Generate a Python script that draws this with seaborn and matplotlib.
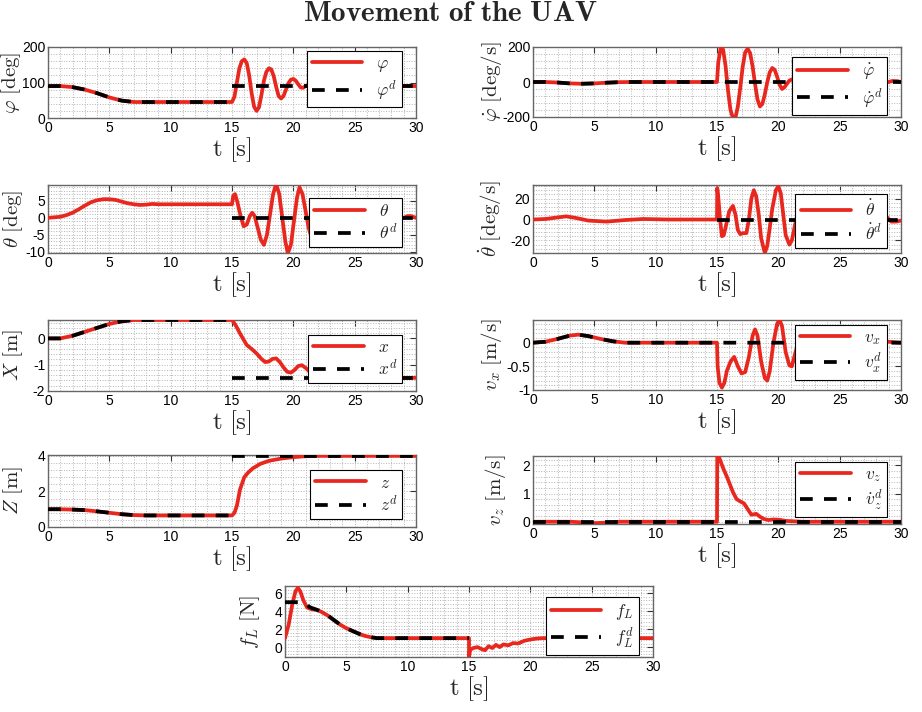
import matplotlib
matplotlib.use("Agg")
import matplotlib.pyplot as plt
import seaborn as sns
from matplotlib.ticker import MultipleLocator, AutoMinorLocator, FixedLocator, FuncFormatter

# ---------------- data ----------------
# roll angle phi [deg]
t_phi = [0, 1, 2, 3, 4, 5, 6, 7, 8, 15,
         15.2, 15.4, 15.6, 15.8, 16.0, 16.2, 16.4, 16.6, 16.8, 17.0, 17.2, 17.4, 17.6, 17.8,
         18.0, 18.2, 18.4, 18.6, 18.8, 19.0, 19.2, 19.4, 19.6, 19.8, 20.0, 20.2, 20.4, 20.6,
         20.8, 21.0, 21.3, 21.6, 22, 30]
phi = [90, 90, 87, 80, 70, 58, 49, 45, 45, 45,
       60, 100, 140, 160, 165, 155, 120, 70, 32, 20, 30, 65, 105, 130,
       140, 137, 118, 88, 62, 55, 62, 80, 98, 108, 110, 105, 95, 86,
       85, 90, 94, 91, 90, 90]
t_phid_a = [0, 1, 2, 3, 4, 5, 6, 7, 8, 15]
phid_a = [90, 90, 87, 80, 70, 58, 49, 45, 45, 45]
t_phid_b = [15, 30]
phid_b = [90, 90]

# roll rate
t_dphi = [0, 1, 2, 3, 4, 5, 6, 7, 8, 15,
          15.1, 15.3, 15.5, 15.7, 15.9, 16.1, 16.3, 16.5, 16.7, 16.9,
          17.1, 17.3, 17.5, 17.7, 17.9, 18.1, 18.3, 18.5, 18.7, 18.9,
          19.1, 19.3, 19.5, 19.7, 19.9, 20.1, 20.3, 20.5, 20.7, 20.9,
          21.1, 21.4, 21.7, 22, 29, 29.3, 29.7, 30]
dphi = [0, 0, -3, -8, -10, -8, -4, -1, 0, 0,
        110, 195, 185, 90, -50, -160, -205, -205, -140, -30,
        90, 170, 190, 165, 90, -10, -100, -140, -125, -70,
        0, 55, 80, 70, 30, -15, -40, -30, -10, 8,
        15, 3, -5, 0, 0, 6, 5, 0]
t_dphid = [0, 1, 2, 3, 4, 5, 6, 7, 8, 15, 30]
dphid = [0, 0, -3, -8, -10, -8, -4, -1, 0, 0, 0]

# pitch angle theta [deg]
t_th = [0, 1, 1.5, 2, 2.5, 3, 3.5, 4, 4.5, 5, 5.5, 6, 6.5, 7, 7.5, 8, 8.5, 9, 15,
        15.1, 15.25, 15.45, 15.7, 15.95, 16.2, 16.45, 16.65, 16.85,
        17.1, 17.35, 17.6, 17.85, 18.1, 18.35, 18.6, 18.85,
        19.1, 19.35, 19.55, 19.8, 20.05, 20.3, 20.5, 20.75,
        21.0, 21.25, 21.5, 21.8, 22.1, 22.5, 23, 23.5, 24,
        29, 29.3, 29.6, 30]
th = [0, 0.3, 0.8, 1.5, 2.5, 3.6, 4.6, 5.2, 5.5, 5.5, 5.3, 4.8, 4.3, 4.0, 3.8, 3.9, 4.1, 4.0, 4.0,
      6.5, 7.0, 4.5, 0.5, -2.5, -2.0, 0.5, 1.5, 0.5,
      -3, -6.5, -8, -5, 1, 7, 10, 7,
      0, -7, -10.5, -8, -1, 6, 9, 7,
      2, -3, -6, -4.5, -1, 2, 1, -1, 0,
      0, 0.5, 0.5, 0]
t_thd = [15, 30]
thd = [0, 0]

# pitch rate
t_dth = [0, 1, 2, 2.7, 3.5, 4.5, 6, 7.5, 9, 11, 15,
         15.02, 15.1, 15.25, 15.4, 15.55, 15.75, 16.0, 16.3, 16.5, 16.7, 16.9,
         17.1, 17.4, 17.6, 17.8, 18.0, 18.2, 18.4, 18.6, 18.9,
         19.1, 19.3, 19.5, 19.8, 20.0, 20.2, 20.4, 20.6, 20.9,
         21.1, 21.4, 21.7, 21.9, 22.2, 22.6, 23, 24,
         28.5, 28.8, 29.2, 29.6, 30]
dth = [0, 0.5, 2, 3, 1.5, -1, -2, -0.5, 0.5, 0, 0,
       30, 22, 0, -16, -15, -5, 8, 13, 5, -10, -14,
       -13, -13, 0, 20, 28, 22, 5, -18, -32,
       -25, -8, 10, 28, 32, 25, 5, -15, -24,
       -20, -3, 12, 16, 10, 0, -5, 0,
       0, 3, -2, -2, -1]
t_dthd = [15, 30]
dthd = [0, 0]

# position X [m]
t_x = [0, 1, 2, 3, 4, 5, 6, 7, 15,
       15.3, 15.65, 16.2, 16.6, 17.0, 17.4, 17.7, 18.0, 18.3, 18.6, 18.9, 19.2,
       19.5, 19.8, 20.1, 20.4, 20.7, 21.0, 21.3, 21.6, 22, 23, 30]
x = [0, 0, 0.1, 0.25, 0.4, 0.55, 0.65, 0.7, 0.7,
     0.5, 0.19, -0.25, -0.4, -0.57, -0.78, -0.9, -0.88, -0.78, -0.76, -0.9, -1.1,
     -1.27, -1.3, -1.2, -1.05, -1.02, -1.12, -1.25, -1.33, -1.42, -1.5, -1.5]
t_xd_a = [0, 1, 2, 3, 4, 5, 6, 7, 15]
xd_a = [0, 0, 0.1, 0.25, 0.4, 0.55, 0.65, 0.7, 0.7]
t_xd_b = [15, 30]
xd_b = [-1.5, -1.5]

# velocity vx [m/s]
t_vx = [0, 1, 2, 3, 3.7, 4.5, 5.5, 6.5, 7.5, 15,
        15.05, 15.2, 15.4, 15.6, 15.8, 16.1, 16.4, 16.7, 17.0, 17.3,
        17.6, 17.9, 18.1, 18.3, 18.6, 18.9, 19.1, 19.3, 19.6, 19.9,
        20.1, 20.3, 20.6, 20.9, 21.1, 21.4, 21.8, 22.1, 22.5, 23,
        24, 29, 29.5, 30]
vx = [0, 0.02, 0.08, 0.15, 0.17, 0.14, 0.08, 0.03, 0, 0,
      -0.5, -0.85, -0.95, -0.85, -0.6, -0.4, -0.3, -0.5, -0.65, -0.62,
      -0.3, 0.15, 0.28, 0.15, -0.4, -0.75, -0.8, -0.6, 0, 0.4,
      0.48, 0.35, -0.2, -0.48, -0.5, -0.2, 0.15, 0.2, 0, -0.1,
      0, 0.02, 0.01, 0]
t_vxd = [0, 1, 2, 3, 3.7, 4.5, 5.5, 6.5, 7.5, 15, 30]
vxd = [0, 0.02, 0.08, 0.15, 0.17, 0.14, 0.08, 0.03, 0, 0, 0]

# altitude Z [m]
t_z = [0, 1, 2, 3, 4, 5, 6, 7, 8, 15,
       15.2, 15.4, 15.65, 16.0, 16.3, 16.7, 17.3, 18, 19, 20, 21, 22, 30]
z = [1, 1, 0.98, 0.95, 0.88, 0.8, 0.72, 0.67, 0.65, 0.65,
     0.8, 1.2, 2.1, 2.8, 3.05, 3.3, 3.55, 3.72, 3.85, 3.93, 3.98, 4, 4]
t_zd_a = [0, 1, 2, 3, 4, 5, 6, 7, 8, 15]
zd_a = [1, 1, 0.98, 0.95, 0.88, 0.8, 0.72, 0.67, 0.65, 0.65]
t_zd_b = [15, 30]
zd_b = [4, 4]

# velocity vz [m/s]
t_vz = [0, 3, 4, 5, 6, 7, 15,
        15.02, 15.2, 15.5, 15.8, 16.3, 16.6, 16.9, 17.2, 17.5, 17.8, 18.2, 18.5,
        18.8, 19.2, 19.6, 20.1, 20.6, 21.5, 22, 30]
vz = [0, 0, -0.02, -0.05, -0.03, 0, 0,
      2.3, 2.25, 1.9, 1.6, 1.05, 0.8, 0.72, 0.65, 0.45, 0.25, 0.28, 0.18,
      0.1, 0.06, 0.08, 0.07, 0.03, 0.01, 0, 0]
t_vzd = [0, 30]
vzd = [0, 0]

# cable force f_L [N]
t_fl = [0, 0.3, 0.6, 0.85, 1.05, 1.25, 1.5, 1.8, 2.2, 2.6, 3.0, 3.5, 4.0, 4.5, 5.0, 5.5,
        6.0, 6.5, 7.0, 7.5, 15,
        15.0, 15.1, 15.35, 15.7, 16.0, 16.3, 16.6, 16.9, 17.2, 17.5, 17.8, 18.2, 18.6,
        19.0, 19.5, 20, 20.5, 21, 30]
fl = [1.0, 2.5, 4.8, 6.2, 6.6, 6.2, 5.2, 4.4, 4.2, 4.15, 3.9, 3.5, 3.0, 2.5, 2.1, 1.8,
      1.5, 1.25, 1.1, 1.0, 1.0,
      -1.1, -0.3, -0.1, 0.0, -0.2, -0.35, 0.1, -0.1, 0.25, 0.0, 0.3, 0.2, 0.45,
      0.4, 0.7, 0.85, 0.95, 1.0, 1.0]
t_fld = [0, 1.6, 2.0, 2.6, 3.0, 3.5, 4.0, 4.5, 5.0, 5.5, 6.0, 6.5, 7.0, 7.5, 15]
fld = [5, 5, 4.45, 4.15, 3.9, 3.5, 3.0, 2.5, 2.1, 1.8, 1.5, 1.25, 1.1, 1.0, 1.0]

x_ticks = [0, 5, 10, 15, 20, 25, 30]

# ---------------- style ----------------
sns.set_theme(style="white")
plt.rcParams["font.family"] = ["Liberation Sans", "DejaVu Sans"]
plt.rcParams["mathtext.fontset"] = "cm"
plt.rcParams["axes.unicode_minus"] = False

RED = "#e8281e"
W, H = 922, 712
fig = plt.figure(figsize=(W / 100, H / 100), dpi=100)

fmt = FuncFormatter(lambda v, p: "{:g}".format(v))


def px_rect(left, top, right, bottom):
    return [left / W, 1 - bottom / H, (right - left) / W, (bottom - top) / H]


def draw(rect, t, y, desired, ylim, yticks, ylabel, labels, leg_y, ylab_x):
    ax = fig.add_axes(rect)
    sns.lineplot(x=t, y=y, ax=ax, color=RED, lw=2.7, estimator=None, sort=False,
                 label=labels[0], zorder=3)
    for i, (td, vd) in enumerate(desired):
        sns.lineplot(x=td, y=vd, ax=ax, color="black", lw=2.7,
                     linestyle=(0, (3.4, 3.0)), estimator=None, sort=False,
                     label=labels[1] if i == 0 else "_nolegend_", zorder=4)
    ax.set_xlim(0, 30)
    ax.set_ylim(*ylim)
    ax.xaxis.set_major_locator(FixedLocator(x_ticks))
    ax.xaxis.set_minor_locator(MultipleLocator(1))
    ax.yaxis.set_major_locator(FixedLocator(yticks))
    ax.yaxis.set_minor_locator(AutoMinorLocator(5))
    ax.xaxis.set_major_formatter(fmt)
    ax.yaxis.set_major_formatter(fmt)
    ax.grid(True, which="both", linestyle=":", color="#b4b4b4", linewidth=0.7)
    ax.set_axisbelow(True)
    ax.tick_params(which="major", direction="in", length=4, width=0.8,
                   top=True, right=True, labelsize=10, pad=2, colors="#333333",
                   labelcolor="black")
    ax.tick_params(which="minor", length=0)
    for s in ax.spines.values():
        s.set_color("#666666")
        s.set_linewidth(1.0)
    ax.set_xlabel(r"$\mathrm{t\ [s]}$", fontsize=18, labelpad=0)
    ax.set_ylabel(ylabel, fontsize=15)
    ax.yaxis.set_label_coords(ylab_x, 0.5)
    leg = ax.legend(loc="center right", bbox_to_anchor=(0.963, leg_y), fontsize=12.5,
                    frameon=True, fancybox=False, framealpha=1, edgecolor="black",
                    handlelength=2.9, borderpad=0.3, labelspacing=0.2,
                    handletextpad=0.8, borderaxespad=0)
    leg.get_frame().set_linewidth(0.8)
    leg.set_zorder(10)
    return ax


draw(px_rect(48, 47, 416, 118), t_phi, phi,
     [(t_phid_a, phid_a), (t_phid_b, phid_b)], (0, 200), [0, 100, 200],
     r"$\varphi\ [\mathrm{deg}]$", [r"$\varphi$", r"$\varphi^d$"], 0.55, -0.068)

draw(px_rect(533, 47, 901, 117), t_dphi, dphi,
     [(t_dphid, dphid)], (-200, 200), [-200, 0, 200],
     r"$\dot{\varphi}\ [\mathrm{deg/s}]$", [r"$\dot{\varphi}$", r"$\dot{\varphi}^d$"], 0.445, -0.08)

draw(px_rect(48, 185, 416, 253), t_th, th,
     [(t_thd, thd)], (-10.4, 9.7), [-10, -5, 0, 5],
     r"$\theta\ [\mathrm{deg}]$", [r"$\theta$", r"$\theta^d$"], 0.45, -0.062)

draw(px_rect(533, 185, 901, 253), t_dth, dth,
     [(t_dthd, dthd)], (-32, 33), [-20, 0, 20],
     r"$\dot{\theta}\ [\mathrm{deg/s}]$", [r"$\dot{\theta}$", r"$\dot{\theta}^d$"], 0.47, -0.08)

draw(px_rect(48, 320, 416, 391), t_x, x,
     [(t_xd_a, xd_a), (t_xd_b, xd_b)], (-2, 0.7), [-2, -1, 0],
     r"$X\ [\mathrm{m}]$", [r"$x$", r"$x^d$"], 0.45, -0.062)

draw(px_rect(533, 320, 901, 390), t_vx, vx,
     [(t_vxd, vxd)], (-1, 0.48), [-1, -0.5, 0],
     r"$v_x\ [\mathrm{m/s}]$", [r"$v_x$", r"$v_x^d$"], 0.54, -0.08)

draw(px_rect(48, 455, 416, 527), t_z, z,
     [(t_zd_a, zd_a), (t_zd_b, zd_b)], (0, 4.05), [0, 2, 4],
     r"$Z\ [\mathrm{m}]$", [r"$z$", r"$z^d$"], 0.45, -0.062)

draw(px_rect(533, 456, 901, 524), t_vz, vz,
     [(t_vzd, vzd)], (-0.08, 2.33), [0, 1, 2],
     r"$v_z\ [\mathrm{m/s}]$", [r"$v_z$", r"$\dot{v}_z^d$"], 0.51, -0.068)

draw(px_rect(285, 586, 653, 657), t_fl, fl,
     [(t_fld, fld)], (-1.1, 6.8), [0, 2, 4, 6],
     r"$f_L\ [\mathrm{N}]$", [r"$f_L$", r"$f_L^d$"], 0.44, -0.063)

fig.text(0.489, 0.982, r"$\mathbf{Movement\ of\ the\ UAV}$", ha="center", va="center",
         fontsize=21)

fig.savefig("out.png", dpi=100)
